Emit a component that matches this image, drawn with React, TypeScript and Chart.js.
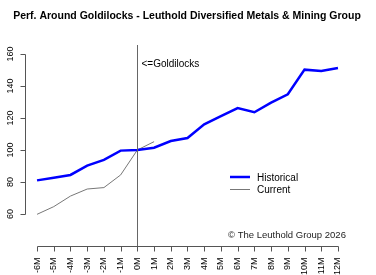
import React, { useEffect, useRef } from "react";
import { Chart, registerables } from "chart.js";

Chart.register(...registerables);

const months = [-6, -5, -4, -3, -2, -1, 0, 1, 2, 3, 4, 5, 6, 7, 8, 9, 10, 11, 12];
const monthLabels = ["-6M", "-5M", "-4M", "-3M", "-2M", "-1M", "0M", "1M", "2M", "3M", "4M", "5M", "6M", "7M", "8M", "9M", "10M", "11M", "12M"];
const historical = [81, 82.7, 84.4, 90.2, 93.8, 99.6, 100, 101.4, 105.6, 107.5, 116, 121.2, 126.2, 123.6, 129.6, 134.8, 150.2, 149.4, 151.2];
const currentMonths = [-6, -5, -4, -3, -2, -1, 0, 1];
const current = [59.8, 64.6, 71.2, 75.6, 76.5, 84.4, 100, 105.2];
const yTicks = [60, 80, 100, 120, 140, 160];
const yTickLabels = ["60", "80", "100", "120", "140", "160"];
const titleText = "Perf. Around Goldilocks - Leuthold Diversified Metals & Mining Group";
const markerLabel = "<=Goldilocks";
const copyright = "\u00A9 The Leuthold Group 2026";
const seriesNames = ["Historical", "Current"];

const FONT = "'Liberation Sans', Arial, sans-serif";

const decor = {
  id: "decor",
  afterDraw(chart: any) {
    const ctx = chart.ctx;
    const xs = chart.scales.x;
    const ys = chart.scales.y;
    const area = chart.chartArea;
    ctx.save();
    // title
    ctx.fillStyle = "#000";
    ctx.font = `bold 10.5px ${FONT}`;
    ctx.textAlign = "center";
    ctx.textBaseline = "middle";
    ctx.fillText(titleText, 187, 16);

    // y axis
    ctx.strokeStyle = "#555";
    ctx.lineWidth = 1;
    const yTop = Math.round(ys.getPixelForValue(yTicks[yTicks.length - 1])) + 0.5;
    const yBot = Math.round(ys.getPixelForValue(yTicks[0])) + 0.5;
    const axX = area.left + 0.5;
    ctx.beginPath();
    ctx.moveTo(axX, yTop);
    ctx.lineTo(axX, yBot);
    yTicks.forEach((v) => {
      const py = Math.round(ys.getPixelForValue(v)) + 0.5;
      ctx.moveTo(axX, py);
      ctx.lineTo(axX - 5, py);
    });
    ctx.stroke();
    ctx.font = `9px ${FONT}`;
    ctx.fillStyle = "#000";
    yTicks.forEach((v, i) => {
      const py = ys.getPixelForValue(v);
      ctx.save();
      ctx.translate(11, py);
      ctx.rotate(-Math.PI / 2);
      ctx.textAlign = "center";
      ctx.textBaseline = "middle";
      ctx.fillText(yTickLabels[i], 0, 0);
      ctx.restore();
    });

    // x axis
    const axY = area.bottom + 0.5;
    const xL = Math.round(xs.getPixelForValue(months[0])) + 0.5;
    const xR = Math.round(xs.getPixelForValue(months[months.length - 1])) + 0.5;
    ctx.beginPath();
    ctx.moveTo(xL, axY);
    ctx.lineTo(xR, axY);
    months.forEach((m) => {
      const px = Math.round(xs.getPixelForValue(m)) + 0.5;
      ctx.moveTo(px, axY);
      ctx.lineTo(px, axY + 5);
    });
    ctx.stroke();
    months.forEach((m, i) => {
      const px = xs.getPixelForValue(m);
      ctx.save();
      ctx.translate(px, axY + 11);
      ctx.rotate(-Math.PI / 2);
      ctx.textAlign = "right";
      ctx.textBaseline = "middle";
      ctx.fillText(monthLabels[i], 0, 0);
      ctx.restore();
    });

    // vertical goldilocks line
    const x0 = Math.round(xs.getPixelForValue(0)) + 0.5;
    ctx.strokeStyle = "#666";
    ctx.beginPath();
    ctx.moveTo(x0, area.top);
    ctx.lineTo(x0, area.bottom);
    ctx.stroke();
    ctx.font = `10px ${FONT}`;
    ctx.textAlign = "left";
    ctx.textBaseline = "middle";
    ctx.fillStyle = "#000";
    ctx.fillText(markerLabel, x0 + 4, 64);

    // legend
    ctx.strokeStyle = "#0000ff";
    ctx.lineWidth = 2.5;
    ctx.beginPath();
    ctx.moveTo(230, 177);
    ctx.lineTo(250, 177);
    ctx.stroke();
    ctx.strokeStyle = "#777";
    ctx.lineWidth = 1;
    ctx.beginPath();
    ctx.moveTo(230, 189.5);
    ctx.lineTo(250, 189.5);
    ctx.stroke();
    ctx.fillStyle = "#000";
    ctx.font = `10px ${FONT}`;
    ctx.fillText(seriesNames[0], 257, 178);
    ctx.fillText(seriesNames[1], 257, 190);

    // copyright
    ctx.font = `9.5px ${FONT}`;
    ctx.fillStyle = "#222";
    ctx.fillText(copyright, 228, 235);
    ctx.restore();
  },
};

export default function App() {
  const ref = useRef<HTMLCanvasElement | null>(null);
  useEffect(() => {
    if (!ref.current) return;
    const chart = new Chart(ref.current, {
      type: "line",
      data: {
        datasets: [
          {
            label: seriesNames[0],
            data: months.map((m, i) => ({ x: m, y: historical[i] })),
            borderColor: "#0000ff",
            borderWidth: 2.5,
            pointRadius: 0,
            tension: 0,
          },
          {
            label: seriesNames[1],
            data: currentMonths.map((m, i) => ({ x: m, y: current[i] })),
            borderColor: "#777777",
            borderWidth: 1,
            pointRadius: 0,
            tension: 0,
          },
        ],
      },
      options: {
        animation: false,
        responsive: false,
        maintainAspectRatio: false,
        layout: { padding: { left: 25, right: 26, top: 45, bottom: 29 } },
        plugins: { legend: { display: false }, title: { display: false }, tooltip: { enabled: false } },
        scales: {
          x: { type: "linear", min: -6.72, max: 12.72, display: false },
          y: { type: "linear", min: 40, max: 165.6, display: false },
        },
      },
      plugins: [decor],
    });
    return () => chart.destroy();
  }, []);
  return (
    <div style={{ position: "absolute", left: 0, top: 0, width: 376, height: 275, background: "#fff" }}>
      <canvas ref={ref} width={376} height={275} style={{ width: 376, height: 275 }} />
    </div>
  );
}
